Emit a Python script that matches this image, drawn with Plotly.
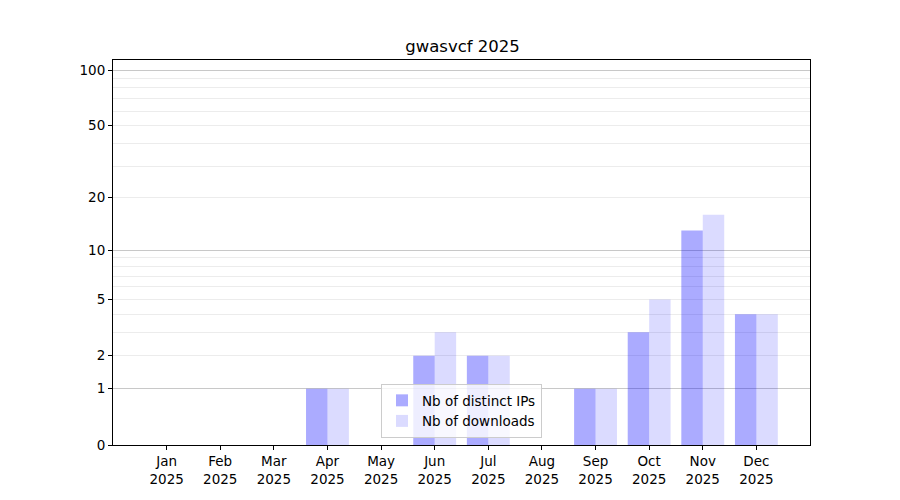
import numpy as np
import plotly.graph_objects as go

months = ['Jan', 'Feb', 'Mar', 'Apr', 'May', 'Jun', 'Jul', 'Aug', 'Sep', 'Oct', 'Nov', 'Dec']
year = '2025'
distinct_ips = [0, 0, 0, 1, 0, 2, 2, 0, 1, 3, 13, 4]
downloads = [0, 0, 0, 1, 0, 3, 2, 0, 1, 5, 16, 4]

major_ticks = [0, 1, 2, 5, 10, 20, 50, 100]
light_grid = [2, 3, 4, 5, 6, 7, 8, 9, 20, 30, 40, 50, 60, 70, 80, 90]
dark_grid = [1, 10, 100]


def tr(v):
    # log(1+x) scale so that zero months still sit on the axis
    return np.log10(1 + np.asarray(v, dtype=float))


x = list(range(len(months)))
font = dict(family='DejaVu Sans', size=13.5, color='black')
yrange = [0, 2.058]

fig = go.Figure()
fig.add_trace(go.Bar(x=x, y=tr(distinct_ips), name='Nb of distinct IPs',
                     marker=dict(color='rgba(0,0,255,0.33)', line_width=0),
                     customdata=distinct_ips, hovertemplate='%{customdata}'))
fig.add_trace(go.Bar(x=x, y=tr(downloads), name='Nb of downloads',
                     marker=dict(color='rgba(0,0,255,0.14)', line_width=0),
                     customdata=downloads, hovertemplate='%{customdata}'))
# invisible trace to carry the darker grid axis
fig.add_trace(go.Scatter(x=[x[0]], y=[0], yaxis='y2', mode='markers',
                         marker=dict(opacity=0), showlegend=False, hoverinfo='skip'))

# page puts the plot 8px in from the corner, margins account for that
fig.update_layout(
    width=900, height=500,
    paper_bgcolor='white', plot_bgcolor='white',
    margin=dict(l=105, r=98, t=52, b=63),
    font=font,
    barmode='group', bargap=0.2, bargroupgap=0,
    title=dict(text='gwasvcf ' + year, x=0.505, xanchor='center',
               y=0.924, yanchor='middle', yref='container',
               font=dict(family='DejaVu Sans', size=16.5, color='black')),
    legend=dict(x=0.5, xanchor='center', y=0.018, yanchor='bottom',
                bgcolor='rgba(255,255,255,0.8)', bordercolor='#cccccc', borderwidth=1,
                font=font, tracegroupgap=0),
    showlegend=True,
)
fig.update_xaxes(range=[-1, 12], tickmode='array', tickvals=x,
                 ticktext=[m + '<br>' + year for m in months],
                 showgrid=False, zeroline=False,
                 showline=True, linecolor='black', linewidth=1.1, mirror=True,
                 ticks='outside', ticklen=4, tickcolor='black', tickwidth=1)
fig.update_yaxes(range=yrange, tickmode='array', tickvals=tr(major_ticks),
                 ticktext=[str(t) for t in major_ticks],
                 showgrid=False, zeroline=False,
                 showline=True, linecolor='black', linewidth=1.1, mirror=True,
                 ticks='outside', ticklen=4, tickcolor='black', tickwidth=1,
                 minor=dict(tickmode='array', tickvals=tr(light_grid), showgrid=True,
                            gridcolor='#ececec', gridwidth=1, ticks=''))
fig.update_layout(yaxis2=dict(overlaying='y', side='right', range=yrange,
                              tickmode='array', tickvals=tr(dark_grid),
                              showticklabels=False, ticks='', showgrid=True,
                              gridcolor='#c8c8c8', gridwidth=1, zeroline=False,
                              showline=False))

fig.write_html("out.html")
